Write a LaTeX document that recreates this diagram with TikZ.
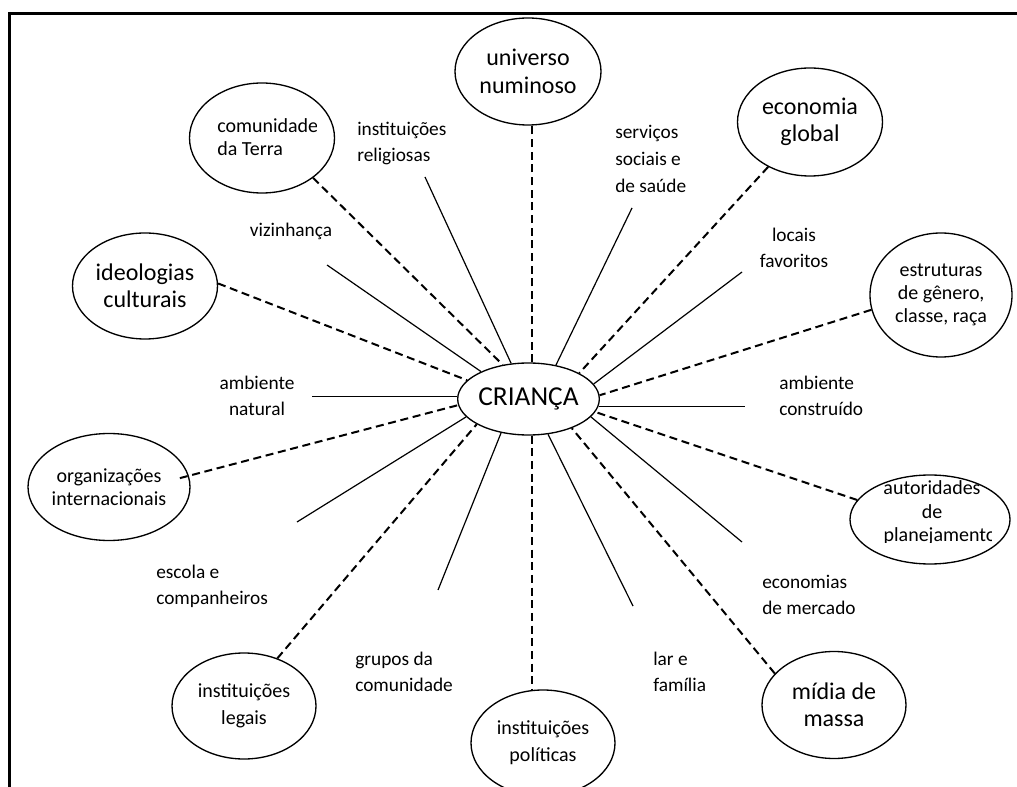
\documentclass[tikz,border=0pt]{standalone}
\usepackage{fontspec}
\setmainfont{Carlito}
\usetikzlibrary{shapes.geometric}
\begin{document}
\begin{tikzpicture}[x=0.75pt,y=-0.75pt,
  ell/.style={draw, ellipse, inner sep=0pt, line width=1pt, align=center},
  esize/.style 2 args={minimum width=#1*0.75pt, minimum height=#2*0.75pt},
  bigtxt/.style={font=\fontsize{18}{20.5}\selectfont},
  smalltxt/.style={font=\fontsize{15}{17.5}\selectfont},
  lbl/.style={inner sep=0pt, align=left, font=\fontsize{14.5}{19.5}\selectfont},
  clbl/.style={inner sep=0pt, align=center, font=\fontsize{14.5}{19.5}\selectfont},
  solidline/.style={line width=0.9pt},
  dashline/.style={line width=1.5pt, dash pattern=on 6pt off 3.5pt},
  frameline/.style={line width=2.25pt}
]
\useasboundingbox (0,0) rectangle (1017,787);
\fill[white] (-12,-12) rectangle (1029,799);

% frame
\draw[frameline] (8,13.5) -- (1029,13.5);
\draw[frameline] (9.5,12) -- (9.5,799);

% centre
\node[ell, esize={141}{72}, font=\fontsize{20.5}{24}\selectfont] (crianca) at (528.5,399) {CRIANÇA};

% outer ellipses
\node[ell, esize={146}{107}, bigtxt] (universo) at (528,71.5) {universo\\numinoso};
\node[ell, esize={145}{110}] (comunidade) at (262,138) {};
\node[ell, esize={145}{108}, bigtxt] (economia) at (810,122) {economia\\global};
\node[ell, esize={145}{106}, bigtxt] (ideologias) at (145,286) {ideologias\\culturais};
\node[ell, esize={142}{124}, smalltxt] (estruturas) at (941,295) {estruturas\\de gênero,\\classe, raça};
\node[ell, esize={160}{89}] (autoridades) at (930,519.5) {};
\node[ell, esize={162}{107}, smalltxt] (organizacoes) at (109,487) {organizações\\internacionais};
\node[ell, esize={144}{106}, font=\fontsize{15}{20.5}\selectfont] (legais) at (244,706) {instituições\\legais};
\node[ell, esize={144}{106}, font=\fontsize{15}{20.5}\selectfont] (politicas) at (543,743) {instituições\\políticas};
\node[ell, esize={144}{107}, bigtxt] (midia) at (834,705) {mídia de\\massa};

% clipped texts inside ellipses
\begin{scope}
  \clip (200,100) rectangle (316,170);
  \node[inner sep=0pt, align=left, anchor=west, smalltxt] (comtxt) at (217,137) {comunidade\\da Terra};
\end{scope}
\begin{scope}
  \clip (860,470) rectangle (991,542);
  \node[inner sep=0pt, align=center, smalltxt] (auttxt) at (932,513) {autoridades\\de\\\hspace*{12pt}planejamento};
\end{scope}

% free ends of the solid lines
\coordinate (eRel) at (425,177);
\coordinate (eViz) at (327,265);
\coordinate (eNat) at (312,397);
\coordinate (eEsc) at (297,522);
\coordinate (eGru) at (438,590);
\coordinate (eLar) at (633,606);
\coordinate (eEco) at (742,542);
\coordinate (eCon) at (745,406);
\coordinate (eLoc) at (742,272);
\coordinate (eSer) at (632,208);

% solid lines
\draw[solidline] (crianca.116.6) -- (eRel);
\draw[solidline] (crianca.150.6) -- (eViz);
\draw[solidline] (crianca.178) -- (crianca.178 -| eNat);
\draw[solidline] (crianca.196) -- (eEsc);
\draw[solidline] (crianca.231.7) -- (eGru);
\draw[solidline] (crianca.-61) -- (eLar);
\draw[solidline] (crianca.-16.5) -- (eEco);
\draw[solidline] (crianca.-6) -- (crianca.-6 -| eCon);
\draw[solidline] (crianca.13.4) -- (eLoc);
\draw[solidline] (crianca.51.1) -- (eSer);

% dashed lines
\draw[dashline] (crianca.84) -- (crianca.84 |- universo.south);
\draw[dashline] (crianca.-84) -- (crianca.-84 |- politicas.north);
\draw[dashline] (comunidade.-38.7) -- (crianca.127.9);
\draw[dashline] (ideologias.2) -- (crianca.163);
\draw[dashline, shorten <=-7pt] (organizacoes.8) -- (crianca.185);
\draw[dashline] (legais.55) -- (crianca.206.1);
\draw[dashline] (midia.152.4) -- (crianca.-34.6);
\draw[dashline] (autoridades.165.3) -- (crianca.-11.5);
\draw[dashline] (estruturas.192) -- (crianca.3);
\draw[dashline] (economia.227.6) -- (crianca.27.4);

% labels
\node[lbl, anchor=west] (lRel) at (357,143.5) {instituições\\religiosas};
\node[lbl, anchor=west, font=\fontsize{14.5}{20.5}\selectfont] (lSer) at (615,159) {serviços\\sociais e\\de saúde};
\node[clbl] (lViz) at (291,231) {vizinhança};
\node[clbl] (lLoc) at (794,248) {locais\\favoritos};
\node[clbl] (lNat) at (257,396) {ambiente\\natural};
\node[lbl, anchor=west] (lCon) at (779,395.5) {ambiente\\construído};
\node[lbl, anchor=west] (lEsc) at (156,586.5) {escola e\\companheiros};
\node[lbl, anchor=west] (lGru) at (355,671.5) {grupos da\\comunidade};
\node[lbl, anchor=west] (lLar) at (653,671.5) {lar e\\família};
\node[lbl, anchor=west] (lEco) at (762,594.5) {economias\\de mercado};
\end{tikzpicture}
\end{document}
